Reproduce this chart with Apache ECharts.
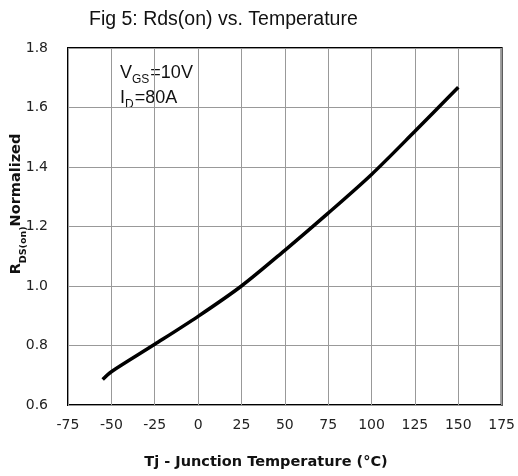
<!DOCTYPE html>
<html>
<head>
<meta charset="utf-8">
<script src="https://cdn.jsdelivr.net/npm/echarts@6/dist/echarts.min.js"></script>
<style>
  html, body { margin: 0; padding: 0; background: #fff; }
  #chart { width: 518px; height: 476px; }
</style>
</head>
<body>
<div id="chart"></div>
<script>
// Junction temperature (°C) and normalized on-resistance
const temperatures = [-55, -50, -25, 0, 25, 50, 75, 100, 125, 150];
const rdsNormalized = [0.686, 0.712, 0.804, 0.898, 1.0, 1.12, 1.245, 1.375, 1.52, 1.668];
const xTicks = [-75, -50, -25, 0, 25, 50, 75, 100, 125, 150, 175];
const yTicks = [0.6, 0.8, 1.0, 1.2, 1.4, 1.6, 1.8];

const chart = echarts.init(document.getElementById('chart'), null, { renderer: 'canvas' });

const tickFont = { fontFamily: 'DejaVu Sans', fontSize: 14, color: '#222' };
const boldName = { fontFamily: 'DejaVu Sans', fontWeight: 'bold', fill: '#111' };

chart.setOption({
  animation: false,
  title: {
    text: 'Fig 5: Rds(on) vs. Temperature',
    left: 84, top: 5,
    textStyle: { fontFamily: 'Liberation Sans', fontSize: 19.5, fontWeight: 'normal', color: '#111' }
  },
  grid: { left: 68, right: 16, top: 48, bottom: 71, show: true, borderColor: '#000', borderWidth: 2, backgroundColor: 'transparent' },
  xAxis: {
    type: 'value',
    min: xTicks[0], max: xTicks[xTicks.length - 1], interval: 25,
    axisLine: { show: false }, axisTick: { show: false },
    axisLabel: Object.assign({ margin: 13 }, tickFont),
    splitLine: { show: true, lineStyle: { color: '#999', width: 1 } }
  },
  yAxis: {
    type: 'value',
    min: yTicks[0], max: yTicks[yTicks.length - 1], interval: 0.2,
    axisLine: { show: false }, axisTick: { show: false },
    axisLabel: Object.assign({ margin: 20, formatter: v => v.toFixed(1) }, tickFont),
    splitLine: { show: true, lineStyle: { color: '#999', width: 1 } }
  },
  graphic: [
    {
      // condition box in the upper-left corner of the plot
      type: 'group',
      left: 113, top: 49,
      z: 10,
      children: [
        { type: 'rect', shape: { x: 0, y: 0, width: 104, height: 66 }, style: { fill: '#fff' } },
        {
          type: 'text', x: 7, y: 8,
          style: {
            text: '{a|V}{b|GS}{a|=10V}\n{a|I}{b|D}{a|=80A}',
            rich: {
              a: { fontFamily: 'Liberation Sans', fontSize: 18, fill: '#111', lineHeight: 25, verticalAlign: 'bottom' },
              b: { fontFamily: 'Liberation Sans', fontSize: 12, fill: '#111', lineHeight: 25, verticalAlign: 'bottom', padding: [0, 1, -4, 0] }
            }
          }
        }
      ]
    },
    {
      // y-axis title, reading bottom to top
      type: 'text',
      x: 15, y: 204,
      rotation: Math.PI / 2,
      style: {
        text: '{r|R}{s|DS(on)}{r|Normalized}',
        align: 'center', verticalAlign: 'middle',
        rich: {
          r: Object.assign({ fontSize: 14.5, verticalAlign: 'bottom', lineHeight: 18 }, boldName),
          s: Object.assign({ fontSize: 9.5, verticalAlign: 'bottom', lineHeight: 18, padding: [0, 0, -5, 0] }, boldName)
        }
      }
    },
    {
      // x-axis title
      type: 'text',
      x: 266, y: 462,
      style: Object.assign({
        text: 'Tj - Junction Temperature (°C)',
        fontSize: 14.5, align: 'center', verticalAlign: 'middle'
      }, boldName)
    }
  ],
  series: [{
    type: 'line',
    data: temperatures.map((t, i) => [t, rdsNormalized[i]]),
    smooth: 0.3,
    showSymbol: false,
    lineStyle: { color: '#000', width: 3.5 },
    z: 3
  }]
});
</script>
</body>
</html>
